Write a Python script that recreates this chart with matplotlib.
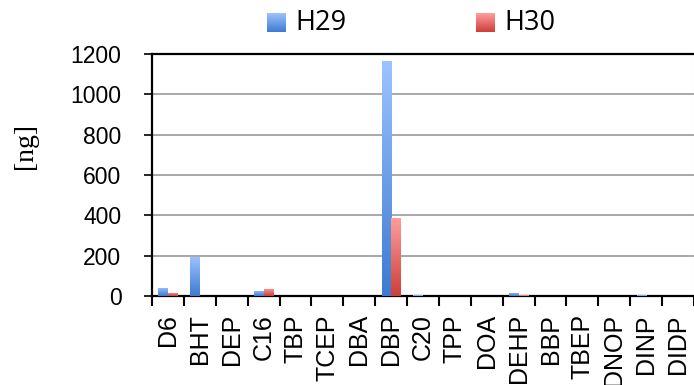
import numpy as np
import matplotlib.pyplot as plt
from matplotlib.colors import LinearSegmentedColormap

# compounds and measured amounts [ng]
compounds = ["D6", "BHT", "DEP", "C16", "TBP", "TCEP", "DBA", "DBP", "C20",
             "TPP", "DOA", "DEHP", "BBP", "TBEP", "DNOP", "DINP", "DIDP"]
h29 = [41, 195, 2, 26, 0, 0, 0, 1165, 3, 0, 0, 15, 0, 0, 0, 3, 0]
h30 = [16, 0, 2, 36, 0, 0, 0, 388, 0, 0, 0, 3, 0, 0, 0, 0, 0]
series = ["H29", "H30"]

blue_cmap = LinearSegmentedColormap.from_list("blue", ["#3d7bd0", "#9dc3ff"])
red_cmap = LinearSegmentedColormap.from_list("red", ["#cc3f38", "#ff9e9e"])
grad = np.linspace(0, 1, 256).reshape(-1, 1)

fig = plt.figure(figsize=(6.94, 3.85), dpi=100)
ax = fig.add_axes([152 / 694, 1 - 296 / 385, 1 - 152 / 694, 242 / 385])

x = np.arange(len(compounds))
w = 0.3
bars29 = ax.bar(x - w / 2, h29, w, color="#6a9fe8", zorder=3)
bars30 = ax.bar(x + w / 2, h30, w, color="#e86a66", zorder=3)

# vertical gradient inside each bar
for bars, cmap in ((bars29, blue_cmap), (bars30, red_cmap)):
    for b in bars:
        if b.get_height() <= 0:
            continue
        x0, y0 = b.get_x(), b.get_y()
        im = ax.imshow(grad, cmap=cmap, origin="lower", aspect="auto",
                       extent=(x0, x0 + b.get_width(), y0, y0 + b.get_height()),
                       zorder=4)
        im.set_clip_path(b)

ax.set_xlim(-0.5, 16.48)
ax.set_ylim(0, 1200)
ax.set_yticks(range(0, 1201, 200))
ax.yaxis.grid(True, color="#999999", lw=1.2, zorder=0)
ax.set_axisbelow(True)

ax.set_xticks(x)
ax.set_xticklabels(compounds, rotation=90, fontsize=18, family="Liberation Sans")
ax.set_xticks(np.arange(-0.5, 17, 1), minor=True)
ax.tick_params(axis="x", which="major", length=0, pad=13)
ax.tick_params(axis="x", which="minor", length=7, width=1.5, direction="out")
ax.tick_params(axis="y", length=6, width=1.2, labelsize=16.5, pad=16)
for lab in ax.get_yticklabels():
    lab.set_family("Liberation Sans")

for side in ("left", "bottom", "top"):
    ax.spines[side].set_linewidth(1.6)
    ax.spines[side].set_color("black")
ax.spines["right"].set_color("#cccccc")

fig.text(26 / 694, 1 - 146 / 385, "[ng]", rotation=90, ha="center", va="center",
         fontsize=20, family="Liberation Serif")

# legend: gradient swatches plus labels
for name, cmap, sx in zip(series, (blue_cmap, red_cmap), (267, 476)):
    sw = fig.add_axes([sx / 694, 1 - 32 / 385, 19 / 694, 19 / 385])
    sw.imshow(grad, cmap=cmap, origin="lower", aspect="auto")
    sw.set_axis_off()
    fig.text((sx + 28) / 694, 1 - 23 / 385, name, ha="left", va="center",
             fontsize=19.5, family="Open Sans")

fig.savefig("out.png", dpi=100)
